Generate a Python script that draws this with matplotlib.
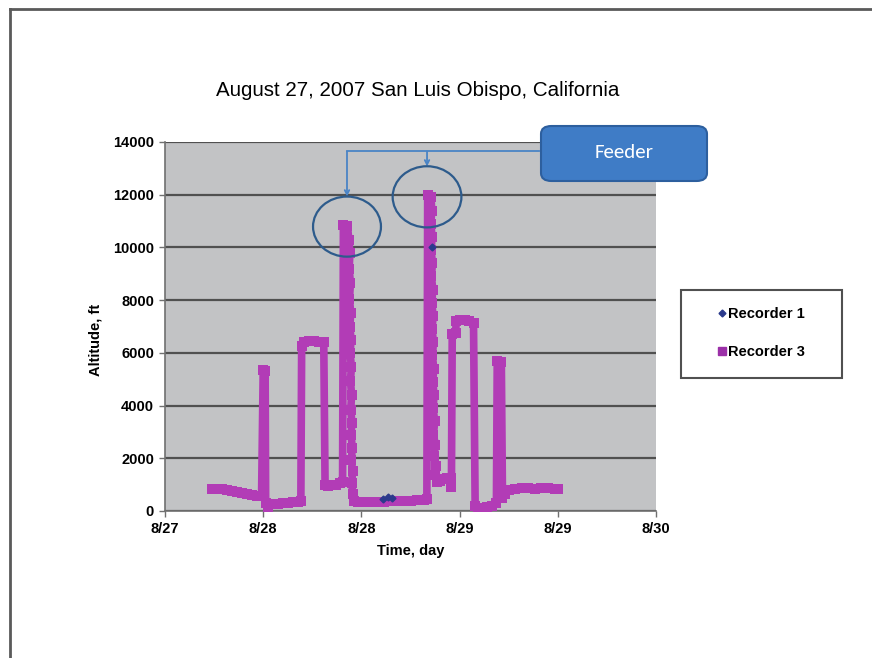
import matplotlib
matplotlib.use('Agg')
import matplotlib.pyplot as plt
from matplotlib.patches import Ellipse, FancyBboxPatch, Rectangle
from matplotlib.lines import Line2D

plt.rcParams['font.family'] = ['Liberation Sans', 'DejaVu Sans']

# Recorder 3 track (x = days after 8/27 00:00, altitude in ft)
rec3_day = [0.29, 0.32, 0.35, 0.38, 0.41, 0.44, 0.47, 0.50, 0.53, 0.56, 0.59,
            0.600, 0.612, 0.615, 0.63, 0.66, 0.69, 0.72, 0.75, 0.78, 0.81, 0.83,
            0.835, 0.85, 0.88, 0.91, 0.94, 0.97,
            0.978, 0.995, 1.02, 1.045, 1.07,
            1.085, 1.09, 1.115, 1.123, 1.13, 1.125, 1.133, 1.127, 1.135, 1.129,
            1.137, 1.131, 1.139, 1.133, 1.14, 1.135, 1.142, 1.137, 1.144, 1.139,
            1.146, 1.141, 1.148, 1.152,
            1.18, 1.22, 1.26, 1.30, 1.34, 1.38, 1.42, 1.46, 1.50, 1.54, 1.58,
            1.600, 1.605, 1.625, 1.63, 1.624, 1.632, 1.626, 1.634, 1.628, 1.636,
            1.63, 1.638, 1.632, 1.64, 1.634, 1.642, 1.636, 1.644, 1.638, 1.648,
            1.64, 1.652, 1.644, 1.656, 1.648, 1.66,
            1.68, 1.70, 1.72, 1.745, 1.75,
            1.755, 1.775, 1.78, 1.80, 1.83, 1.86, 1.885,
            1.895, 1.91, 1.94, 1.97, 2.00,
            2.025, 2.03, 2.055, 2.062, 2.08, 2.10, 2.14, 2.18, 2.22, 2.26, 2.30,
            2.34, 2.38, 2.40]
rec3_alt = [850, 840, 820, 800, 760, 720, 680, 640, 600, 580, 560,
            5350, 5300, 300, 150, 250, 280, 300, 320, 340, 360, 380,
            6250, 6400, 6450, 6450, 6420, 6400,
            1000, 950, 980, 1000, 1050,
            1100, 10850, 10800, 10300, 9800, 9200, 8650, 8050, 7500, 7000,
            6500, 6000, 5450, 4950, 4400, 3850, 3350, 2900, 2400, 1950,
            1500, 1050, 650, 380,
            350, 330, 340, 350, 360, 370, 380, 380, 390, 400, 420,
            450, 12000, 11900, 11400, 10900, 10400, 9900, 9400, 8900, 8400,
            7900, 7400, 6900, 6400, 5900, 5400, 4900, 4400, 3900, 3400,
            2900, 2500, 2100, 1700, 1350, 1100,
            1150, 1200, 1250, 1250, 900,
            6700, 6750, 7200, 7250, 7250, 7200, 7150,
            200, 80, 100, 150, 200,
            300, 5700, 5650, 500, 650, 800, 850, 860, 860, 850, 860,
            860, 850, 850]

# Recorder 1 (mostly hidden under Recorder 3)
rec1_day = [1.33, 1.36, 1.39, 1.63]
rec1_alt = [470, 520, 480, 10000]

x_ticks = [0, 0.6, 1.2, 1.8, 2.4, 3.0]
x_labels = ['8/27', '8/28', '8/28', '8/29', '8/29', '8/30']
y_ticks = [0, 2000, 4000, 6000, 8000, 10000, 12000, 14000]

W, H = 872, 658
fig = plt.figure(figsize=(8.72, 6.58), dpi=100)
ax = fig.add_axes([165 / W, 1 - 511 / H, 491 / W, 369 / H])
ax.set_facecolor('#c2c3c5')

rec3_color = '#b23cb6'
rec1_color = '#2b3a8c'
ax.plot(rec3_day, rec3_alt, color=rec3_color, lw=5.5, marker='s',
        markersize=7, markeredgewidth=0, zorder=3)
ax.plot(rec1_day, rec1_alt, linestyle='none', marker='D', markersize=3.5,
        color=rec1_color, zorder=4)

ax.set_xlim(0, 3)
ax.set_ylim(0, 14000)
ax.set_xticks(x_ticks)
ax.set_xticklabels(x_labels)
ax.set_yticks(y_ticks)
ax.set_yticklabels([str(v) for v in y_ticks])
ax.yaxis.grid(True, color='#505050', lw=1.6)
ax.set_axisbelow(True)
for s in ['top', 'right']:
    ax.spines[s].set_visible(False)
for s in ['left', 'bottom']:
    ax.spines[s].set_color('#707070')
    ax.spines[s].set_linewidth(1.2)
ax.tick_params(axis='both', direction='out', length=4, width=1, color='#707070',
               labelsize=10.5, pad=4)
for lab in ax.get_xticklabels() + ax.get_yticklabels():
    lab.set_fontweight('bold')
ax.set_xlabel('Time, day', fontsize=10.5, fontweight='bold', labelpad=6)

fig.text(95 / W, 1 - 340 / H, 'Altitude, ft', rotation=90, fontsize=10.5,
         fontweight='bold', ha='center', va='center')
fig.text(418 / W, 1 - 90 / H, 'August 27, 2007 San Luis Obispo, California',
         fontsize=14.8, ha='center', va='center')

# legend
fig.add_artist(Rectangle((681 / W, 1 - 378 / H), 161 / W, 88 / H,
                         transform=fig.transFigure, fill=False,
                         edgecolor='#505050', lw=1.5))
handles = [Line2D([], [], linestyle='none', marker='D', markersize=3.5,
                  color=rec1_color),
           Line2D([], [], linestyle='none', marker='s', markersize=5.5,
                  color='#9b30a8')]
fig.legend(handles, ['Recorder 1', 'Recorder 3'], loc='center',
           bbox_to_anchor=(761 / W, 1 - 333 / H), frameon=False,
           prop={'weight': 'bold', 'size': 10.5}, handlelength=0.6,
           handletextpad=0.1, labelspacing=1.6)

# feeder callout
circ_color = '#2d5b8c'
ax.add_patch(Ellipse((1.112, 10790), 0.415, 2280, fill=False,
                     edgecolor=circ_color, lw=1.6, zorder=5))
ax.add_patch(Ellipse((1.601, 11920), 0.42, 2320, fill=False,
                     edgecolor=circ_color, lw=1.6, zorder=5))
conn_color = '#4a84c6'
ax.plot([1.112, 2.285], [13640, 13640], color=conn_color, lw=1.3,
        clip_on=False, zorder=5)
ax.annotate('', xy=(1.112, 11930), xytext=(1.112, 13640),
            arrowprops=dict(arrowstyle='->', color=conn_color, lw=1.3,
                            mutation_scale=8, shrinkA=0, shrinkB=0))
ax.annotate('', xy=(1.601, 13070), xytext=(1.601, 13640),
            arrowprops=dict(arrowstyle='->', color=conn_color, lw=1.3,
                            mutation_scale=8, shrinkA=0, shrinkB=0))
fig.add_artist(FancyBboxPatch((541 / W, 1 - 181 / H), 166 / W, 55 / H,
                              boxstyle='round,pad=0,rounding_size=0.012',
                              transform=fig.transFigure,
                              facecolor='#3f7cc6', edgecolor='#2d5f9e', lw=1.5))
fig.text(624 / W, 1 - 153 / H, 'Feeder', color='white', fontsize=15,
         family=['Carlito', 'Open Sans', 'DejaVu Sans'],
         ha='center', va='center')

# page border
fig.add_artist(Line2D([10 / W, 10 / W], [0, 1 - 9 / H], transform=fig.transFigure,
                      color='#5a5a5a', lw=2))
fig.add_artist(Line2D([10 / W, 1], [1 - 9 / H, 1 - 9 / H], transform=fig.transFigure,
                      color='#5a5a5a', lw=2))

fig.savefig('out.png', dpi=100)
